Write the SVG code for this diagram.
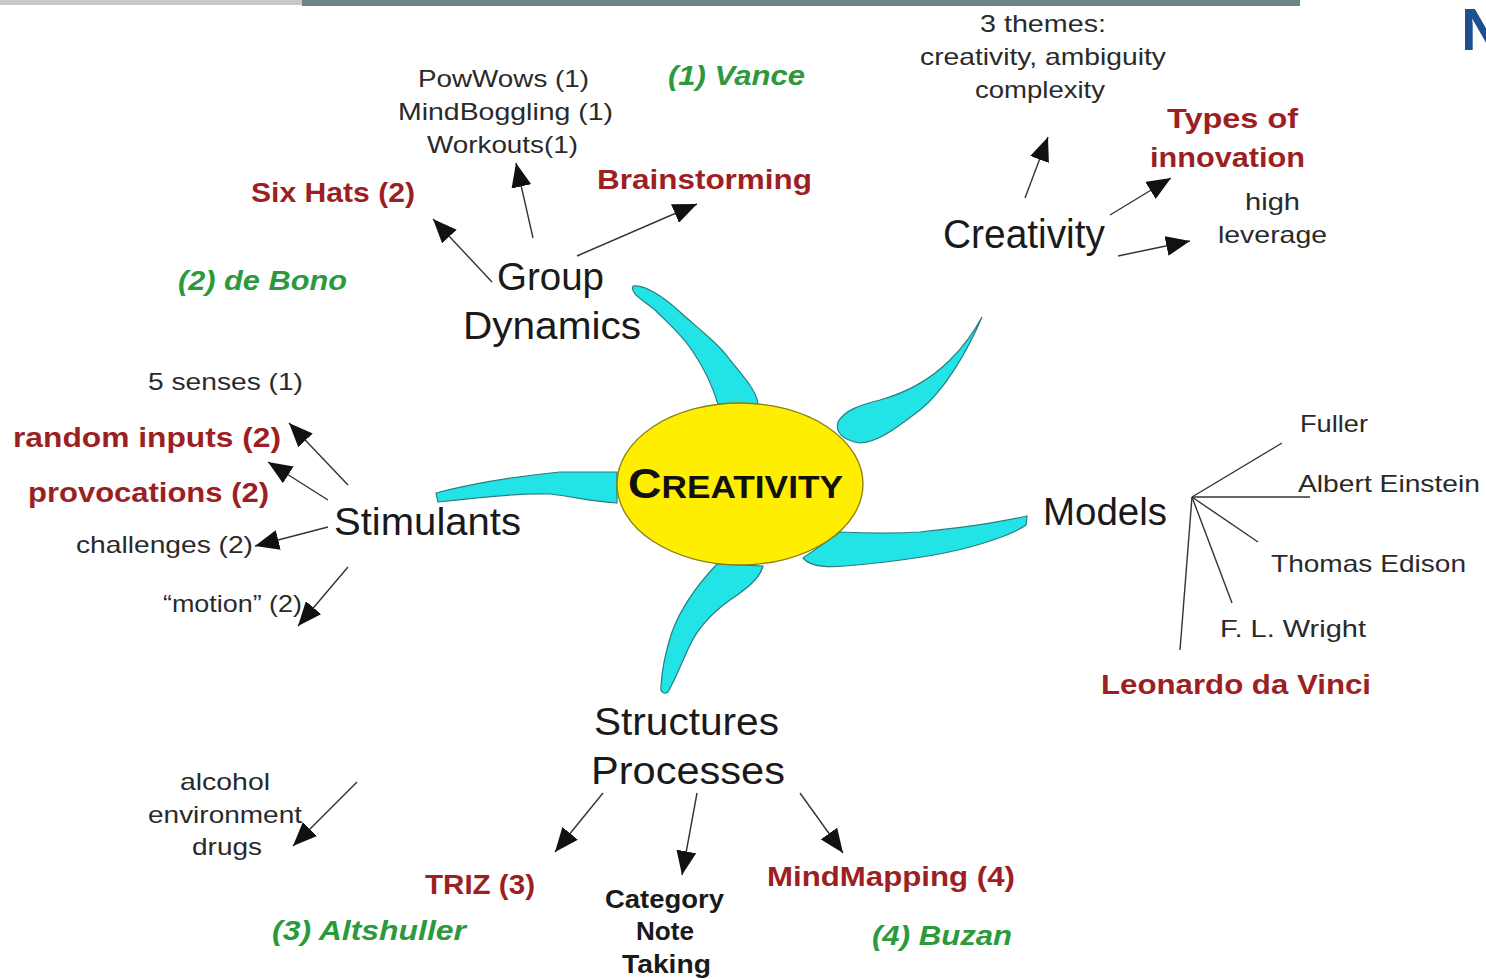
<svg xmlns="http://www.w3.org/2000/svg" width="1486" height="979" viewBox="0 0 1486 979">
  <defs>
    <marker id="ah" viewBox="0 0 24 20" refX="24" refY="10" markerWidth="24" markerHeight="20" markerUnits="userSpaceOnUse" orient="auto">
      <path d="M0,0 L24,10 L0,20 Z" fill="#111"/>
    </marker>
    <style>
      text { font-family: "Liberation Sans", Arial, sans-serif; }
      .sm { font-size: 24px; fill: #2a2a2a; }
      .big { font-size: 38px; fill: #1a1a1a; }
      .red { font-size: 27px; font-weight: bold; fill: #9c1f23; }
      .grn { font-size: 27px; font-weight: bold; font-style: italic; fill: #2c9a3c; }
      .blk { font-size: 25px; font-weight: bold; fill: #1a1a1a; }
      .arm { fill: #22e3e6; stroke: #2b7d80; stroke-width: 1.2; }
      .con { stroke: #333; stroke-width: 1.4; fill: none; marker-end: url(#ah); }
      .tie { stroke: #333; stroke-width: 1.4; fill: none; }
    </style>
  </defs>

  <rect width="1486" height="979" fill="#ffffff"/>
  <!-- header strip -->
  <rect x="0" y="0" width="302" height="5" fill="#c9c9c9"/>
  <rect x="302" y="0" width="998" height="6" fill="#6e8585"/>
  <text x="1461" y="50" font-size="60" font-weight="bold" fill="#1f4f8c">N</text>

  <!-- arms radiating from the hub -->
  <g id="arms">
    <path class="arm" d="M633,286 C645,284 665,298 680,312 C700,330 720,345 730,360 C745,378 757,392 758,404 L718,404 C712,385 705,370 695,355 C685,338 670,325 655,310 C643,300 630,294 633,286 Z"/>
    <path class="arm" d="M982,317 C975,330 965,345 950,360 C930,380 905,393 880,400 C860,405 845,410 838,422 C835,432 842,440 860,443 C880,442 900,425 920,410 C945,390 968,350 982,317 Z"/>
    <path class="arm" d="M436,493 C470,484 520,476 560,472 L617,472 L617,503 C595,502 575,497 550,494 C520,493 480,497 438,502 Z"/>
    <path class="arm" d="M1027,516 C1000,522 960,528 920,532 C890,534 860,533 840,532 L803,558 C810,566 825,568 845,566 C880,563 930,558 970,547 C995,540 1015,533 1026,525 Z"/>
    <path class="arm" d="M717,564 L763,566 C760,578 748,588 730,600 C712,613 698,628 690,645 C682,662 675,680 668,692 C664,695 660,692 661,686 C662,668 666,650 672,632 C682,605 700,582 717,564 Z"/>
  </g>

  <!-- hub -->
  <g id="hub">
    <ellipse cx="740" cy="484" rx="123" ry="81" fill="#ffee00" stroke="#8a7d10" stroke-width="1.3"/>
    <text x="628" y="498" font-weight="bold" fill="#111" textLength="215" lengthAdjust="spacingAndGlyphs"><tspan font-size="42">C</tspan><tspan font-size="32">REATIVITY</tspan></text>
  </g>

  <!-- connectors -->
  <g id="connectors">
    <line class="con" x1="492" y1="282" x2="433" y2="219"/>
    <line class="con" x1="533" y1="238" x2="516" y2="163"/>
    <line class="con" x1="577" y1="256" x2="697" y2="204"/>
    <line class="con" x1="1025" y1="198" x2="1048" y2="137"/>
    <line class="con" x1="1110" y1="215" x2="1171" y2="178"/>
    <line class="con" x1="1118" y1="256" x2="1190" y2="241"/>
    <line class="con" x1="348" y1="485" x2="289" y2="423"/>
    <line class="con" x1="328" y1="500" x2="268" y2="462"/>
    <line class="con" x1="328" y1="527" x2="255" y2="546"/>
    <line class="con" x1="348" y1="567" x2="298" y2="626"/>
    <line class="con" x1="357" y1="782" x2="293" y2="846"/>
    <line class="con" x1="603" y1="793" x2="555" y2="852"/>
    <line class="con" x1="697" y1="793" x2="682" y2="875"/>
    <line class="con" x1="800" y1="793" x2="843" y2="853"/>
    <line class="tie" x1="1192" y1="497" x2="1282" y2="443"/>
    <line class="tie" x1="1192" y1="497" x2="1310" y2="497"/>
    <line class="tie" x1="1192" y1="497" x2="1258" y2="542"/>
    <line class="tie" x1="1192" y1="497" x2="1232" y2="603"/>
    <line class="tie" x1="1192" y1="497" x2="1180" y2="650"/>
  </g>

  <!-- Group Dynamics -->
  <g id="group-dynamics">
    <text class="big" x="497" y="290" textLength="107" lengthAdjust="spacingAndGlyphs">Group</text>
    <text class="big" x="463" y="339" textLength="178" lengthAdjust="spacingAndGlyphs">Dynamics</text>
  </g>
  <g id="powwows">
    <text class="sm" x="418" y="87" textLength="171" lengthAdjust="spacingAndGlyphs">PowWows (1)</text>
    <text class="sm" x="398" y="120" textLength="215" lengthAdjust="spacingAndGlyphs">MindBoggling (1)</text>
    <text class="sm" x="427" y="153" textLength="151" lengthAdjust="spacingAndGlyphs">Workouts(1)</text>
  </g>
  <g id="vance"><text class="grn" x="668" y="85" textLength="137" lengthAdjust="spacingAndGlyphs">(1) Vance</text></g>
  <g id="six-hats"><text class="red" x="251" y="202" textLength="164" lengthAdjust="spacingAndGlyphs">Six Hats (2)</text></g>
  <g id="brainstorming"><text class="red" x="597" y="189" textLength="215" lengthAdjust="spacingAndGlyphs">Brainstorming</text></g>
  <g id="de-bono"><text class="grn" x="178" y="290" textLength="169" lengthAdjust="spacingAndGlyphs">(2) de Bono</text></g>

  <!-- Creativity -->
  <g id="creativity">
    <text x="943" y="248" font-size="40" fill="#1a1a1a" textLength="162" lengthAdjust="spacingAndGlyphs">Creativity</text>
  </g>
  <g id="themes">
    <text class="sm" x="980" y="32" textLength="126" lengthAdjust="spacingAndGlyphs">3 themes:</text>
    <text class="sm" x="920" y="65" textLength="246" lengthAdjust="spacingAndGlyphs">creativity, ambiguity</text>
    <text class="sm" x="975" y="98" textLength="130" lengthAdjust="spacingAndGlyphs">complexity</text>
  </g>
  <g id="types">
    <text class="red" x="1167" y="128" textLength="131" lengthAdjust="spacingAndGlyphs">Types of</text>
    <text class="red" x="1150" y="167" textLength="155" lengthAdjust="spacingAndGlyphs">innovation</text>
  </g>
  <g id="leverage">
    <text class="sm" x="1245" y="210" textLength="55" lengthAdjust="spacingAndGlyphs">high</text>
    <text class="sm" x="1218" y="243" textLength="109" lengthAdjust="spacingAndGlyphs">leverage</text>
  </g>

  <!-- Stimulants -->
  <g id="stimulants"><text class="big" x="334" y="535" textLength="187" lengthAdjust="spacingAndGlyphs">Stimulants</text></g>
  <g id="senses"><text class="sm" x="148" y="390" textLength="155" lengthAdjust="spacingAndGlyphs">5 senses (1)</text></g>
  <g id="random-inputs"><text class="red" x="13" y="447" textLength="268" lengthAdjust="spacingAndGlyphs">random inputs (2)</text></g>
  <g id="provocations"><text class="red" x="28" y="502" textLength="241" lengthAdjust="spacingAndGlyphs">provocations (2)</text></g>
  <g id="challenges"><text class="sm" x="76" y="553" textLength="177" lengthAdjust="spacingAndGlyphs">challenges (2)</text></g>
  <g id="motion"><text class="sm" x="163" y="612" textLength="139" lengthAdjust="spacingAndGlyphs">“motion” (2)</text></g>

  <!-- Models -->
  <g id="models"><text class="big" x="1043" y="525" textLength="124" lengthAdjust="spacingAndGlyphs">Models</text></g>
  <g id="fuller"><text class="sm" x="1300" y="432" textLength="68" lengthAdjust="spacingAndGlyphs">Fuller</text></g>
  <g id="einstein"><text class="sm" x="1298" y="492" textLength="182" lengthAdjust="spacingAndGlyphs">Albert Einstein</text></g>
  <g id="edison"><text class="sm" x="1271" y="572" textLength="195" lengthAdjust="spacingAndGlyphs">Thomas Edison</text></g>
  <g id="wright"><text class="sm" x="1220" y="637" textLength="146" lengthAdjust="spacingAndGlyphs">F. L. Wright</text></g>
  <g id="da-vinci"><text class="red" x="1101" y="694" textLength="270" lengthAdjust="spacingAndGlyphs">Leonardo da Vinci</text></g>

  <!-- Structures / Processes -->
  <g id="structures">
    <text class="big" x="594" y="735" textLength="185" lengthAdjust="spacingAndGlyphs">Structures</text>
    <text class="big" x="591" y="784" textLength="194" lengthAdjust="spacingAndGlyphs">Processes</text>
  </g>
  <g id="substances">
    <text class="sm" x="180" y="790" textLength="90" lengthAdjust="spacingAndGlyphs">alcohol</text>
    <text class="sm" x="148" y="823" textLength="154" lengthAdjust="spacingAndGlyphs">environment</text>
    <text class="sm" x="192" y="855" textLength="70" lengthAdjust="spacingAndGlyphs">drugs</text>
  </g>
  <g id="triz"><text class="red" x="425" y="894" textLength="110" lengthAdjust="spacingAndGlyphs">TRIZ (3)</text></g>
  <g id="altshuller"><text class="grn" x="272" y="940" textLength="194" lengthAdjust="spacingAndGlyphs">(3) Altshuller</text></g>
  <g id="note-taking">
    <text class="blk" x="605" y="908" textLength="119" lengthAdjust="spacingAndGlyphs">Category</text>
    <text class="blk" x="636" y="940" textLength="58" lengthAdjust="spacingAndGlyphs">Note</text>
    <text class="blk" x="622" y="973" textLength="89" lengthAdjust="spacingAndGlyphs">Taking</text>
  </g>
  <g id="mindmapping"><text class="red" x="767" y="886" textLength="248" lengthAdjust="spacingAndGlyphs">MindMapping (4)</text></g>
  <g id="buzan"><text class="grn" x="872" y="945" textLength="140" lengthAdjust="spacingAndGlyphs">(4) Buzan</text></g>
</svg>
